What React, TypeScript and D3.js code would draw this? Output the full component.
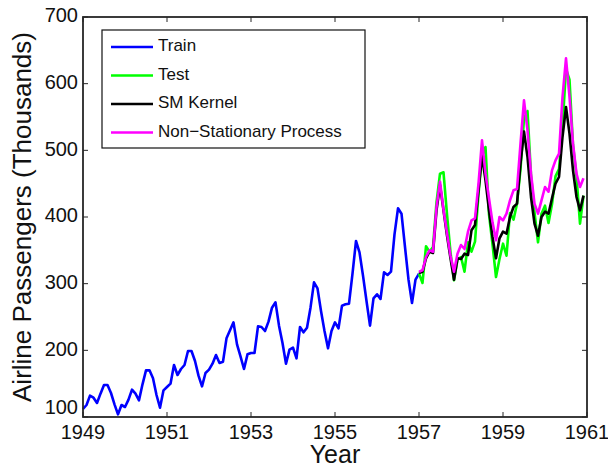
import { useMemo } from 'react';
import * as d3 from 'd3';

const W = 608;
const H = 469;
const MARGIN = { top: 17, right: 21, bottom: 52, left: 83 };

// monthly airline passengers (thousands), Jan 1949 .. Jan 1957
const trainStart = 1949;
const trainPassengers = [
  112, 118, 132, 129, 121, 135, 148, 148, 136, 119, 104, 118,
  115, 126, 141, 135, 125, 149, 170, 170, 158, 133, 114, 140,
  145, 150, 178, 163, 172, 178, 199, 199, 184, 162, 146, 166,
  171, 180, 193, 181, 183, 218, 230, 242, 209, 191, 172, 194,
  196, 196, 236, 235, 229, 243, 264, 272, 237, 211, 180, 201,
  204, 188, 235, 227, 234, 264, 302, 293, 259, 229, 203, 229,
  242, 233, 267, 269, 270, 315, 364, 347, 312, 274, 237, 278,
  284, 277, 317, 313, 318, 374, 413, 405, 355, 306, 271, 306,
  315,
];

// Jan 1957 .. Dec 1960
const testStart = 1957;
const testPassengers = [
  315, 301, 356, 348, 355, 422, 465, 467, 404, 347, 305, 336,
  340, 318, 362, 348, 363, 435, 491, 505, 404, 359, 310, 337,
  360, 342, 406, 396, 420, 472, 548, 559, 463, 407, 362, 405,
  417, 391, 419, 461, 472, 535, 622, 606, 508, 461, 390, 432,
];
const smKernelPred = [
  316, 318, 338, 348, 346, 410, 448, 410, 372, 338, 306, 338,
  337, 345, 343, 380, 388, 440, 492, 455, 410, 370, 338, 368,
  378, 375, 400, 415, 420, 480, 528, 490, 430, 390, 372, 400,
  408, 405, 428, 450, 460, 520, 565, 525, 470, 430, 410, 432,
];
const nonStationaryPred = [
  318, 320, 340, 350, 348, 415, 453, 411, 376, 342, 318, 345,
  358, 352, 378, 395, 398, 450, 515, 465, 428, 392, 365, 400,
  395, 405, 425, 440, 442, 510, 575, 530, 465, 420, 405, 425,
  445, 438, 470, 485, 495, 580, 638, 580, 510, 465, 445, 458,
];

const xTicks = [1949, 1951, 1953, 1955, 1957, 1959, 1961];
const yTicks = [100, 200, 300, 400, 500, 600, 700];

const seriesNames = ['Train', 'Test', 'SM Kernel', 'Non\u2212Stationary Process'];
const seriesColors = ['#0000ff', '#00ff00', '#000000', '#ff00ff'];

const FONT = '"Liberation Sans", Arial, Helvetica, sans-serif';

const toPoints = (vals: number[], start: number) =>
  vals.map((v, i) => ({ t: start + i / 12, v }));

export default function App() {
  const boundsWidth = W - MARGIN.left - MARGIN.right;
  const boundsHeight = H - MARGIN.top - MARGIN.bottom;

  const xScale = useMemo(() => d3.scaleLinear().domain([1949, 1961]).range([0, boundsWidth]), [boundsWidth]);
  const yScale = useMemo(() => d3.scaleLinear().domain([100, 700]).range([boundsHeight, 0]), [boundsHeight]);

  const line = d3
    .line<{ t: number; v: number }>()
    .x((d) => xScale(d.t))
    .y((d) => yScale(d.v));

  const series = [
    toPoints(trainPassengers, trainStart),
    toPoints(testPassengers, testStart),
    toPoints(smKernelPred, testStart),
    toPoints(nonStationaryPred, testStart),
  ];

  const tickLen = 5;
  const axisColor = '#262626';

  return (
    <svg width={W} height={H} style={{ position: 'absolute', left: 0, top: 0, background: 'white' }} fontFamily={FONT}>
      <g transform={`translate(${MARGIN.left},${MARGIN.top})`}>
        {series.map((pts, i) => (
          <path
            key={i}
            d={line(pts) ?? ''}
            fill="none"
            stroke={seriesColors[i]}
            strokeWidth={2.6}
            strokeLinejoin="round"
          />
        ))}

        {/* ticks, inward on all four sides */}
        {xTicks.map((t) => (
          <g key={'x' + t}>
            <line x1={xScale(t)} x2={xScale(t)} y1={boundsHeight} y2={boundsHeight - tickLen} stroke={axisColor} strokeWidth={1} />
            <line x1={xScale(t)} x2={xScale(t)} y1={0} y2={tickLen} stroke={axisColor} strokeWidth={1} />
            <text x={xScale(t)} y={boundsHeight + 17} textAnchor="middle" dominantBaseline="middle" fontSize={20} fill="#111">
              {t}
            </text>
          </g>
        ))}
        {yTicks.map((t, i) => (
          <g key={'y' + t}>
            <line x1={0} x2={tickLen} y1={yScale(t)} y2={yScale(t)} stroke={axisColor} strokeWidth={1} />
            <line x1={boundsWidth} x2={boundsWidth - tickLen} y1={yScale(t)} y2={yScale(t)} stroke={axisColor} strokeWidth={1} />
            <text x={-5} y={yScale(t) - (i === 0 ? 8 : 0)} textAnchor="end" dominantBaseline="middle" fontSize={20} fill="#111">
              {t}
            </text>
          </g>
        ))}

        <rect x={0} y={0} width={boundsWidth} height={boundsHeight} fill="none" stroke={axisColor} strokeWidth={1.8} />

        <text x={boundsWidth / 2} y={boundsHeight + 39} textAnchor="middle" dominantBaseline="middle" fontSize={25} fill="#111">
          Year
        </text>
        <text
          transform={`translate(${-59},${boundsHeight / 2}) rotate(-90)`}
          textAnchor="middle"
          dominantBaseline="middle"
          fontSize={26}
          fill="#111"
        >
          Airline Passengers (Thousands)
        </text>

        {/* legend */}
        <g transform="translate(19,13)">
          <rect x={0} y={0} width={263} height={118} fill="white" stroke="#111" strokeWidth={1.2} />
          {seriesNames.map((name, i) => (
            <g key={name} transform={`translate(0,${17 + i * 28.5})`}>
              <line x1={9} x2={51} y1={0} y2={0} stroke={seriesColors[i]} strokeWidth={2.4} />
              <text x={56} y={0} dominantBaseline="middle" fontSize={17} fill="#111">
                {name}
              </text>
            </g>
          ))}
        </g>
      </g>
    </svg>
  );
}
